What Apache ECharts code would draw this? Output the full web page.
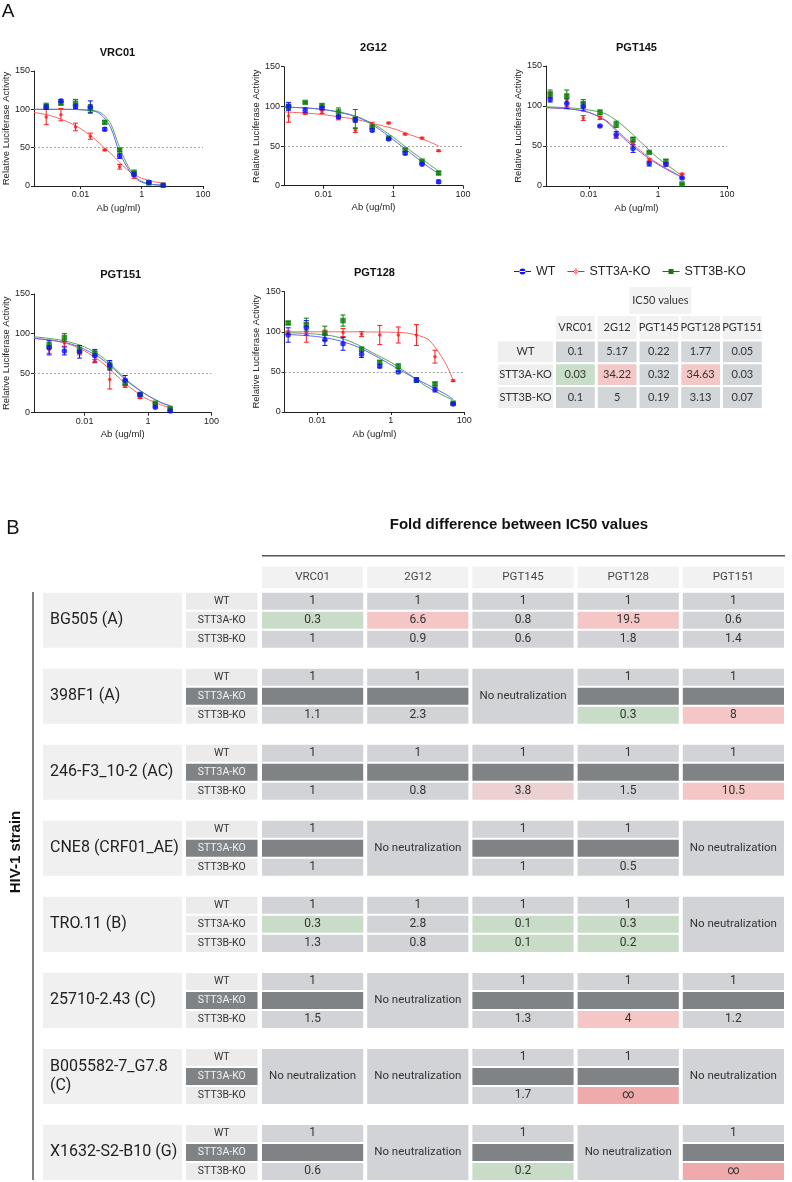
<!DOCTYPE html>
<html>
<head>
<meta charset="utf-8">
<title>STT3A / STT3B neutralization</title>
<script src="https://cdn.jsdelivr.net/npm/echarts@6/dist/echarts.min.js"></script>
<style>
html, body { margin: 0; background: #fff; }
#main { width: 792px; height: 1182px; }
</style>
</head>
<body>
<div id="main"></div>
<script>
// ---------- panel A: dose-response data (ug/ml, % luciferase activity) ----------
const conc3fold = [0.00076, 0.0023, 0.0069, 0.021, 0.062, 0.19, 0.56, 1.7, 5];
const conc2G12 = [0.001, 0.003, 0.0091, 0.027, 0.082, 0.25, 0.74, 2.2, 6.7, 20];
const concPGT128 = [0.0016, 0.005, 0.016, 0.05, 0.16, 0.5, 1.6, 5, 16, 50];

const vrc01WT = [103, 111, 104, 103, 74, 39, 15, 5, 1];
const vrc01WTErr = [3, 2, 3, 8, 2, 3, 2, 1, 0];
const vrc01A = [90, 93, 77, 65, 47, 25, 12, 4, 1];
const vrc01AErr = [10, 8, 5, 4, 1, 3, 2, 1, 0];
const vrc01B = [104, 108, 108, 101, 83, 47, 18, 4, 1];
const vrc01BErr = [4, 2, 5, 5, 2, 2, 1, 1, 0];
const vrc01FitLog = [-3.52, -3, -2.5, -2, -1.5, -1.25, -1, -0.75, -0.5, -0.25, 0, 0.35, 0.7];
const vrc01FitWT = [100, 100, 100, 99.5, 97, 90, 75, 46, 26, 12, 5, 2, 1];
const vrc01FitA = [96, 92, 85, 75, 60, 51, 42, 32, 22, 15, 10, 6, 3.5];
const vrc01FitB = [100, 100, 100, 99.5, 98, 93, 80, 53, 30, 14, 6, 2, 1];

const g12WT = [100, 95, 98, 87, 83, 70, 59, 41, 27, 5];
const g12WTErr = [5, 3, 2, 2, 3, 2, 1, 2, 1, 2];
const g12A = [88, 91, 93, 85, 70, 77, 79, 65, 60, 44];
const g12AErr = [8, 1, 2, 2, 3, 3, 1, 1, 1, 1];
const g12B = [100, 105, 101, 93, 84, 74, 60, 45, 31, 16];
const g12BErr = [2, 1, 2, 5, 12, 2, 1, 2, 1, 2];
const g12FitLog = [-3.13, -2.5, -2, -1.5, -1, -0.5, 0, 0.5, 1, 1.31];
const g12FitWT = [99, 98, 96, 92, 86, 74, 58, 41, 24, 15];
const g12FitA = [93, 91.5, 89.5, 86.5, 83, 77.5, 72, 64, 56, 50];
const g12FitB = [99, 98, 96, 92.5, 86.5, 76, 61, 44, 28, 18];

const pgt145WT = [108, 103, 99, 75, 64, 47, 28, 27, 10];
const pgt145WTErr = [3, 6, 5, 1, 4, 5, 3, 2, 1];
const pgt145A = [114, 107, 85, 85, 62, 53, 32, 28, 15];
const pgt145AErr = [3, 8, 3, 2, 2, 3, 2, 1, 1];
const pgt145B = [115, 112, 103, 92, 77, 58, 42, 31, 2.5];
const pgt145BErr = [5, 8, 5, 3, 4, 3, 1, 2, 1];
const pgt145FitLog = [-3.24, -2.5, -2, -1.5, -1, -0.5, 0, 0.5, 0.72];
const pgt145FitWT = [98, 96, 92, 81, 60, 42, 27, 15, 10];
const pgt145FitA = [98, 96, 92, 82, 62, 44, 28, 16, 11];
const pgt145FitB = [99, 97.5, 95, 90, 75, 55, 35, 19, 12.5];

const pgt151WT = [82, 78, 77, 72, 60, 41, 23, 7, 2];
const pgt151WTErr = [9, 5, 8, 8, 6, 6, 1, 1, 1];
const pgt151A = [80, 88, 76, 65, 42, 34, 19, 11, 4];
const pgt151AErr = [5, 4, 3, 2, 12, 2, 1, 1, 1];
const pgt151B = [85, 95, 79, 75, 60, 38, 23, 12, 5];
const pgt151BErr = [4, 5, 4, 3, 4, 4, 1, 1, 1];
const pgt151FitLog = [-3.6, -2.95, -2.45, -2, -1.5, -1.05, -0.6, -0.1, 0.4, 0.75];
const pgt151FitWT = [94, 91, 87, 80, 69, 54, 38, 24, 13, 8];
const pgt151FitA = [94, 91, 86, 78, 65, 49, 33, 19, 10, 6];
const pgt151FitB = [96, 93, 89, 83, 72, 56, 39, 24, 13, 8];

const pgt128WT = [96, 105, 90, 85, 72, 57, 50, 40, 28, 10];
const pgt128WTErr = [9, 9, 7, 8, 4, 2, 1, 3, 3, 1];
const pgt128A = [99, 99, 99, 99, 97, 96, 96, 96, 69, 39];
const pgt128AErr = [2, 12, 3, 5, 3, 12, 10, 13, 8, 1];
const pgt128B = [111, 109, 98, 114, 78, 62, 57, 40, 35, 11];
const pgt128BErr = [2, 8, 9, 7, 3, 2, 3, 3, 2, 1];
const pgt128FitLog = [-2.89, -2, -1.5, -1, -0.5, 0, 0.5, 1, 1.25, 1.5, 1.7];
const pgt128FitWT = [97, 94, 90, 83, 72, 59, 46, 34, 28, 22, 16];
const pgt128FitA = [100, 100, 100, 100, 99.8, 99.5, 98, 91, 78, 60, 40];
const pgt128FitB = [99, 97, 94, 86, 74, 62, 47, 31, 25, 19, 15];

// ---------- IC50 table ----------
const abs = ['VRC01', '2G12', 'PGT145', 'PGT128', 'PGT151'];
const koRows = ['WT', 'STT3A-KO', 'STT3B-KO'];
const ic50WT = [0.1, 5.17, 0.22, 1.77, 0.05];
const ic50A = [0.03, 34.22, 0.32, 34.63, 0.03];
const ic50B = [0.1, 5, 0.19, 3.13, 0.07];

// ---------- panel B: fold difference (null = not measured, NN = no neutralization) ----------
const NN = 'NN';
const strains = ['BG505 (A)', '398F1 (A)', '246-F3_10-2 (AC)', 'CNE8 (CRF01_AE)', 'TRO.11 (B)',
  '25710-2.43 (C)', 'B005582-7_G7.8\n(C)', 'X1632-S2-B10 (G)'];
const foldBG505 = [[1, 1, 1, 1, 1], [0.3, 6.6, 0.8, 19.5, 0.6], [1, 0.9, 0.6, 1.8, 1.4]];
const fold398F1 = [[1, 1, NN, 1, 1], [null, null, NN, null, null], [1.1, 2.3, NN, 0.3, 8]];
const fold246F3 = [[1, 1, 1, 1, 1], [null, null, null, null, null], [1, 0.8, 3.8, 1.5, 10.5]];
const foldCNE8 = [[1, NN, 1, 1, NN], [null, NN, null, null, NN], [1, NN, 1, 0.5, NN]];
const foldTRO11 = [[1, 1, 1, 1, NN], [0.3, 2.8, 0.1, 0.3, NN], [1.3, 0.8, 0.1, 0.2, NN]];
const fold25710 = [[1, NN, 1, 1, 1], [null, NN, null, null, null], [1.5, NN, 1.3, 4, 1.2]];
const foldB005582 = [[NN, NN, 1, 1, NN], [NN, NN, null, null, NN], [NN, NN, 1.7, Infinity, NN]];
const foldX1632 = [[1, NN, 1, NN, 1], [null, NN, null, NN, null], [0.6, NN, 0.2, NN, Infinity]];
const folds = [foldBG505, fold398F1, fold246F3, foldCNE8, foldTRO11, fold25710, foldB005582, foldX1632];

// ---------------------------------------------------------------------------
const sans = 'Liberation Sans, Arial, Helvetica, sans-serif';
const roboto = 'Roboto, sans-serif';
const lato = 'Lato, sans-serif';
const chart = echarts.init(document.getElementById('main'));

const grids = [], xAxes = [], yAxes = [], series = [], graphics = [];

const tickText = { '-2': '0.01', '0': '1', '2': '100' };

function errorBar(params, api) {
  const x = api.value(0);
  const lo = api.coord([x, api.value(1)]);
  const hi = api.coord([x, api.value(2)]);
  const c = api.visual('color');
  const st = { stroke: c, lineWidth: 1 };
  return {
    type: 'group', children: [
      { type: 'line', shape: { x1: lo[0], y1: lo[1], x2: hi[0], y2: hi[1] }, style: st },
      { type: 'line', shape: { x1: lo[0] - 2.5, y1: lo[1], x2: lo[0] + 2.5, y2: lo[1] }, style: st },
      { type: 'line', shape: { x1: hi[0] - 2.5, y1: hi[1], x2: hi[0] + 2.5, y2: hi[1] }, style: st }
    ]
  };
}

function doseChart(box, xMin, nameGap, title, titleY, conc, sets, fitLog) {
  const gi = grids.length;
  grids.push(box);
  xAxes.push({
    type: 'value', gridIndex: gi, min: xMin, max: 2,
    name: 'Ab (ug/ml)', nameLocation: 'middle', nameGap: 17,
    nameTextStyle: { fontFamily: sans, fontSize: 9.5, color: '#222' },
    axisLine: { onZero: false, lineStyle: { color: '#222', width: 1 } },
    axisTick: { customValues: [-2, 0, 2], length: 3, lineStyle: { color: '#222' } },
    axisLabel: {
      customValues: [-2, 0, 2], fontFamily: sans, fontSize: 9, color: '#222', margin: 4,
      formatter: v => tickText[String(Math.round(v))]
    },
    splitLine: { show: false }
  });
  yAxes.push({
    type: 'value', gridIndex: gi, min: 0, max: 150, interval: 50,
    name: 'Relative Luciferase Activity', nameLocation: 'middle', nameGap: nameGap,
    nameTextStyle: { fontFamily: sans, fontSize: 9.5, color: '#222' },
    axisLine: { show: true, onZero: false, lineStyle: { color: '#222', width: 1 } },
    axisTick: { show: true, length: 3, lineStyle: { color: '#222' } },
    axisLabel: { fontFamily: sans, fontSize: 9, color: '#222', margin: 4 },
    splitLine: { show: false }
  });
  sets.forEach((s, k) => {
    const line = {
      type: 'line', name: s.name, xAxisIndex: gi, yAxisIndex: gi, z: 2,
      data: fitLog.map((x, i) => [x, s.fit[i]]),
      smooth: 0.3, showSymbol: false, symbol: 'none',
      lineStyle: { color: s.lineColor, width: 1 }, itemStyle: { color: s.color },
      silent: true
    };
    if (k === 0) {
      line.markLine = {
        silent: true, symbol: 'none', label: { show: false },
        lineStyle: { color: '#8a8a8a', type: [2, 2], width: 0.8 },
        data: [{ yAxis: 50 }]
      };
    }
    series.push(line);
  });
  sets.forEach(s => {
    series.push({
      type: 'custom', name: s.name, xAxisIndex: gi, yAxisIndex: gi, z: 3,
      renderItem: errorBar, itemStyle: { color: s.color }, silent: true,
      encode: { x: 0, y: [1, 2] },
      data: conc.map((c, i) => [Math.log10(c), s.vals[i] - s.err[i], s.vals[i] + s.err[i]])
        .filter((d, i) => s.err[i] > 0)
    });
    series.push({
      type: 'scatter', name: s.name, xAxisIndex: gi, yAxisIndex: gi, z: 4,
      symbol: s.symbol, symbolSize: s.size, itemStyle: { color: s.color }, silent: true,
      data: conc.map((c, i) => [Math.log10(c), s.vals[i]])
    });
  });
  graphics.push({
    type: 'text', x: box.left + box.width / 2, y: titleY,
    style: { text: title, font: 'bold 11px ' + sans, fill: '#111',
      textAlign: 'center', textVerticalAlign: 'middle', align: 'center', verticalAlign: 'middle' }
  });
}

function sets(a, aErr, fitA, b, bErr, fitB, wt, wtErr, fitWT) {
  return [
    { name: 'STT3A-KO', color: '#ff1a1a', lineColor: '#ff6262', symbol: 'circle', size: 3.5, vals: a, err: aErr, fit: fitA },
    { name: 'STT3B-KO', color: '#0a7d0a', lineColor: '#52a852', symbol: 'rect', size: 5.5, vals: b, err: bErr, fit: fitB },
    { name: 'WT', color: '#1010ff', lineColor: '#6464ff', symbol: 'circle', size: 5.5, vals: wt, err: wtErr, fit: fitWT }
  ];
}

doseChart({ left: 32, top: 71, width: 171, height: 115 }, -3.52, 19, 'VRC01', 53, conc3fold,
  sets(vrc01A, vrc01AErr, vrc01FitA, vrc01B, vrc01BErr, vrc01FitB, vrc01WT, vrc01WTErr, vrc01FitWT), vrc01FitLog);
doseChart({ left: 284, top: 66.7, width: 179, height: 119 }, -3.13, 22, '2G12', 48, conc2G12,
  sets(g12A, g12AErr, g12FitA, g12B, g12BErr, g12FitB, g12WT, g12WTErr, g12FitWT), g12FitLog);
doseChart({ left: 546, top: 66, width: 181, height: 120 }, -3.24, 23, 'PGT145', 48, conc3fold,
  sets(pgt145A, pgt145AErr, pgt145FitA, pgt145B, pgt145BErr, pgt145FitB, pgt145WT, pgt145WTErr, pgt145FitWT), pgt145FitLog);
doseChart({ left: 30, top: 294, width: 181.4, height: 118.7 }, -3.6, 18, 'PGT151', 274.5, conc3fold,
  sets(pgt151A, pgt151AErr, pgt151FitA, pgt151B, pgt151BErr, pgt151FitB, pgt151WT, pgt151WTErr, pgt151FitWT), pgt151FitLog);
doseChart({ left: 284.7, top: 291.7, width: 179.5, height: 120.3 }, -2.89, 23, 'PGT128', 272.5, concPGT128,
  sets(pgt128A, pgt128AErr, pgt128FitA, pgt128B, pgt128BErr, pgt128FitB, pgt128WT, pgt128WTErr, pgt128FitWT), pgt128FitLog);

// ---------- IC50 table ----------
function ratioFill(r) {
  if (r <= 0.35) return '#c9dec9';
  if (r >= 3.5) return '#f5c8c8';
  return '#d3d6d9';
}
const icItems = [];
icItems.push({ kind: 'title', col: 2, row: 0, text: 'IC50 values' });
abs.forEach((a, c) => icItems.push({ kind: 'head', col: c, row: 0, text: a }));
koRows.forEach((k, r) => icItems.push({ kind: 'row', col: 0, row: r, text: k }));
[ic50WT, ic50A, ic50B].forEach((vals, r) => vals.forEach((v, c) => {
  icItems.push({ kind: 'cell', col: c, row: r, text: String(v), fill: ratioFill(v / ic50WT[c]) });
}));

function renderIC50(params, api) {
  const it = icItems[params.dataIndex];
  const cs = params.coordSys;
  const p = api.coord([it.col, it.row]);
  const sz = api.size([1, 1]);
  const bw = sz[0], bh = sz[1];
  let x, y, w, h, fill;
  if (it.kind === 'cell') { x = p[0] - bw / 2; w = bw - 3; y = p[1] - bh / 2; h = bh - 2; fill = it.fill; }
  else if (it.kind === 'row') { x = cs.x - 58; w = 55; y = p[1] - bh / 2; h = bh - 2; fill = '#efefef'; }
  else if (it.kind === 'head') { x = p[0] - bw / 2; w = bw - 3; y = cs.y - 25.5; h = 23.5; fill = '#f2f2f2'; }
  else { x = p[0] - 31; w = 62; y = cs.y - 54.5; h = 27; fill = '#f2f2f2'; }
  return {
    type: 'group', children: [
      { type: 'rect', shape: { x: x, y: y, width: w, height: h }, style: { fill: fill } },
      { type: 'text', style: { x: x + w / 2, y: y + h / 2, text: it.text, font: '11px ' + lato, fill: '#333',
        align: 'center', verticalAlign: 'middle' } }
    ]
  };
}
grids.push({ left: 556, top: 341.5, width: 208.75, height: 68.4 });
xAxes.push({ type: 'category', gridIndex: 5, data: abs, show: false });
yAxes.push({ type: 'category', gridIndex: 5, data: koRows, inverse: true, show: false });
series.push({
  type: 'custom', xAxisIndex: 5, yAxisIndex: 5, clip: false, silent: true,
  renderItem: renderIC50, encode: { x: 0, y: 1 },
  data: icItems.map(it => [it.col, it.row])
});

// ---------- panel B table ----------
function foldFill(v) {
  if (v === null) return '#7f8385';
  if (v === Infinity) return '#efabab';
  if (v <= 0.35) return '#c8dcc8';
  if (v >= 3.5) return v < 3.9 ? '#ebd1d1' : '#f4c6c6';
  return '#d1d3d6';
}
const foldItems = [];
abs.forEach((a, c) => foldItems.push({ kind: 'head', col: c, row: 0, text: a }));
folds.forEach((f, s) => {
  const base = s * 4;
  foldItems.push({ kind: 'strain', col: 0, row: base, text: strains[s] });
  const aEmpty = f[1].every(v => v === null || v === NN);
  koRows.forEach((k, r) => foldItems.push({ kind: 'row', col: 0, row: base + r, text: k, dark: r === 1 && aEmpty }));
  abs.forEach((a, c) => {
    if (f[0][c] === NN) {
      foldItems.push({ kind: 'cell', col: c, row: base, span: 3, text: 'No neutralization', fill: '#d1d3d6' });
      return;
    }
    for (let r = 0; r < 3; r++) {
      const v = f[r][c];
      foldItems.push({ kind: 'cell', col: c, row: base + r, span: 1,
        text: v === null ? '' : (v === Infinity ? '\u221e' : String(v)), fill: foldFill(v) });
    }
  });
});

function renderFold(params, api) {
  const it = foldItems[params.dataIndex];
  const cs = params.coordSys;
  const p = api.coord([it.col, it.row]);
  const bw = api.size([1, 0])[0];
  const unit = Math.abs(api.size([0, 1])[1]);
  let x, y, w, h, fill, font = '12px ' + roboto, color = '#333', align = 'center', tx;
  if (it.kind === 'cell') {
    x = p[0] - bw / 2; w = bw - 4; y = p[1]; h = it.span * unit - 2; fill = it.fill;
    if (it.span > 1) font = '11.5px ' + roboto;
  } else if (it.kind === 'row') {
    x = cs.x - 76; w = 71.5; y = p[1]; h = unit - 2;
    fill = it.dark ? '#7f8385' : '#ebebeb'; color = it.dark ? '#f2f2f2' : '#333'; font = '10.5px ' + roboto;
  } else if (it.kind === 'strain') {
    x = cs.x - 219; w = 139; y = p[1]; h = 3 * unit - 2; fill = '#f0f0f0';
    font = '16px ' + roboto; color = '#222'; align = 'left'; tx = x + 7;
  } else {
    x = p[0] - bw / 2; w = bw - 4; y = cs.y - 26; h = 21.5; fill = '#f2f2f2';
    color = '#444'; font = '11.5px ' + roboto;
  }
  return {
    type: 'group', children: [
      { type: 'rect', shape: { x: x, y: y, width: w, height: h }, style: { fill: fill } },
      { type: 'text', style: { x: tx !== undefined ? tx : x + w / 2, y: y + h / 2, text: it.text, font: font,
        fill: color, align: align, verticalAlign: 'middle', lineHeight: 19 } }
    ]
  };
}
grids.push({ left: 262, top: 592.7, width: 526, height: 590.6 });
xAxes.push({ type: 'category', gridIndex: 6, data: abs, show: false });
yAxes.push({ type: 'value', gridIndex: 6, min: 0, max: 31, inverse: true, show: false });
series.push({
  type: 'custom', xAxisIndex: 6, yAxisIndex: 6, clip: false, silent: true,
  renderItem: renderFold, encode: { x: 0, y: 1 },
  data: foldItems.map(it => [it.col, it.row])
});

// ---------- static labels ----------
function txt(x, y, text, font, extra) {
  return Object.assign({
    type: 'text', x: x, y: y,
    style: { text: text, font: font, fill: '#111', textAlign: 'center', textVerticalAlign: 'middle',
      align: 'center', verticalAlign: 'middle' }
  }, extra || {});
}
graphics.push(txt(8, 12, 'A', '19px ' + sans));
graphics.push(txt(13, 528, 'B', '20px ' + sans));
graphics.push(txt(519, 525, 'Fold difference between IC50 values', 'bold 15px ' + sans, {}));
graphics.push({ type: 'line', shape: { x1: 262, y1: 555.7, x2: 785, y2: 555.7 }, style: { stroke: '#555', lineWidth: 1.5 } });
graphics.push({ type: 'line', shape: { x1: 33, y1: 592, x2: 33, y2: 1180 }, style: { stroke: '#555', lineWidth: 1.5 } });
graphics.push(txt(16, 852, 'HIV-1 strain', 'bold 15px ' + sans, { rotation: Math.PI / 2 }));

const iconWT = 'path://M0,4 L17,4 L17,5 L0,5 Z M5.5,4.5 A3,3 0 1,0 11.5,4.5 A3,3 0 1,0 5.5,4.5 Z';
const iconA = 'path://M0,4 L17,4 L17,5 L0,5 Z M6.5,4.5 A2,2 0 1,0 10.5,4.5 A2,2 0 1,0 6.5,4.5 Z M8,1.5 L9,1.5 L9,7.5 L8,7.5 Z';
const iconB = 'path://M0,4 L17,4 L17,5 L0,5 Z M6,2 L11,2 L11,7 L6,7 Z';

chart.setOption({
  animation: false,
  backgroundColor: '#fff',
  legend: {
    left: 509, top: 260, itemWidth: 17, itemHeight: 6.5, itemGap: 12, selectedMode: false,
    textStyle: { fontFamily: sans, fontSize: 12.5, color: '#222' },
    data: [{ name: 'WT', icon: iconWT }, { name: 'STT3A-KO', icon: iconA }, { name: 'STT3B-KO', icon: iconB }]
  },
  grid: grids,
  xAxis: xAxes,
  yAxis: yAxes,
  series: series,
  graphic: graphics
});
</script>
</body>
</html>
